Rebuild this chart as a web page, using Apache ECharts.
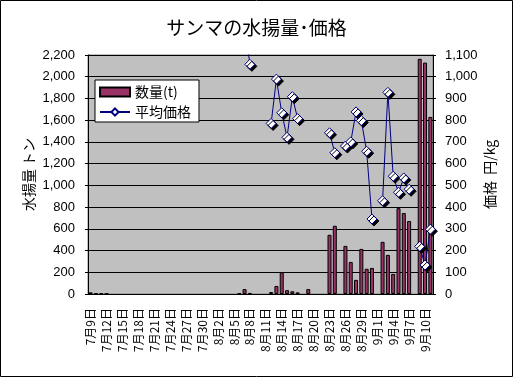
<!DOCTYPE html>
<html>
<head>
<meta charset="utf-8">
<script src="https://cdn.jsdelivr.net/npm/echarts@6/dist/echarts.min.js"></script>
<style>
  html, body { margin: 0; padding: 0; background: #fff; }
  #chart { width: 513px; height: 377px; }
</style>
</head>
<body>
<div id="chart"></div>
<script>
// 7/9 - 9/11, one category per day
const dates = [
  '7月9日','7月10日','7月11日','7月12日','7月13日','7月14日','7月15日','7月16日','7月17日','7月18日',
  '7月19日','7月20日','7月21日','7月22日','7月23日','7月24日','7月25日','7月26日','7月27日','7月28日',
  '7月29日','7月30日','7月31日','8月1日','8月2日','8月3日','8月4日','8月5日','8月6日','8月7日',
  '8月8日','8月9日','8月10日','8月11日','8月12日','8月13日','8月14日','8月15日','8月16日','8月17日',
  '8月18日','8月19日','8月20日','8月21日','8月22日','8月23日','8月24日','8月25日','8月26日','8月27日',
  '8月28日','8月29日','8月30日','8月31日','9月1日','9月2日','9月3日','9月4日','9月5日','9月6日',
  '9月7日','9月8日','9月9日','9月10日','9月11日'
];

// 数量 (t)
const catchTons = [
  15, 5, 8, 5, null, null, null, null, null, null,
  null, null, null, null, null, null, null, null, null, null,
  null, null, null, null, null, null, null, null, 8, 45,
  10, null, null, null, 18, 74, 200, 35, 25, 15,
  null, 45, null, null, null, 545, 628, null, 443, 295,
  130, 415, 232, 240, null, 480, 360, 185, 790, 745,
  672, null, 2165, 2130, 1630
];

// 平均価格 (円/kg)
const avgPrice = [
  null, null, null, null, null, null, null, null, null, null,
  null, null, null, null, null, null, null, null, null, null,
  null, null, null, null, null, null, null, null, null, 1250,
  1057, null, null, null, 785, 989, 834, 721, 908, 807,
  null, null, null, null, null, 742, 650, null, 681, 700,
  838, 798, 657, 345, null, 429, 928, 542, 468, 534,
  482, null, 219, 133, 298
];

const tonsMax = 2200, tonsStep = 200;
const priceMax = 1100, priceStep = 100;

const FONT = '"Liberation Sans", "Noto Sans CJK JP", sans-serif';
const JP = '"Noto Sans CJK JP", sans-serif';
const fmt = v => v.toLocaleString('en-US');

const chart = echarts.init(document.getElementById('chart'));

chart.setOption({
  animation: false,
  backgroundColor: '#fff',
  title: {
    text: 'サンマの水揚量･価格',
    left: 'center',
    top: 13,
    textStyle: { fontFamily: JP, fontSize: 19, fontWeight: 'normal', color: '#000' }
  },
  legend: {
    orient: 'vertical',
    left: 95,
    top: 80,
    backgroundColor: '#fff',
    borderColor: '#000',
    borderWidth: 1,
    borderRadius: 0,
    padding: [5, 8, 3, 4],
    itemGap: 6,
    itemWidth: 30,
    itemHeight: 9,
    textStyle: { fontFamily: JP, fontSize: 14, color: '#000', lineHeight: 14 },
    data: [
      { name: '数量(t)', icon: 'rect' },
      { name: '平均価格' }
    ]
  },
  grid: {
    left: 88, right: 80, top: 55, bottom: 83,
    show: true,
    backgroundColor: '#c0c0c0',
    borderColor: '#808080',
    borderWidth: 1
  },
  xAxis: {
    type: 'category',
    data: dates,
    boundaryGap: true,
    axisLine: { lineStyle: { color: '#000', width: 1 } },
    axisTick: { inside: true, length: 4, interval: 0, lineStyle: { color: '#000' } },
    axisLabel: {
      interval: 2, rotate: 90, margin: 14,
      fontFamily: JP, fontSize: 12, color: '#000'
    }
  },
  yAxis: [
    {
      type: 'value',
      min: 0, max: tonsMax, interval: tonsStep,
      name: '水揚量 トン',
      nameLocation: 'middle',
      nameRotate: 90,
      nameGap: 52,
      nameMoveOverlap: false,
      nameTextStyle: { fontFamily: JP, fontSize: 14, color: '#000' },
      axisLine: { show: true, lineStyle: { color: '#000' } },
      axisTick: { show: true, length: 3, lineStyle: { color: '#000' } },
      axisLabel: { formatter: fmt, fontFamily: FONT, fontSize: 13, color: '#000', margin: 13 },
      splitLine: { show: true, lineStyle: { color: '#000', width: 1 } }
    },
    {
      type: 'value',
      min: 0, max: priceMax, interval: priceStep,
      position: 'right',
      name: '価格  円/kg',
      nameLocation: 'middle',
      nameRotate: 90,
      nameGap: 50,
      nameMoveOverlap: false,
      nameTextStyle: { fontFamily: JP, fontSize: 14, color: '#000' },
      axisLine: { show: true, lineStyle: { color: '#000' } },
      axisTick: { show: true, length: 3, lineStyle: { color: '#000' } },
      axisLabel: { formatter: fmt, fontFamily: FONT, fontSize: 13, color: '#000', margin: 12 },
      splitLine: { show: false }
    }
  ],
  series: [
    {
      name: '数量(t)',
      type: 'bar',
      yAxisIndex: 0,
      data: catchTons,
      barWidth: 4,
      itemStyle: { color: '#993366', borderColor: '#000', borderWidth: 1 }
    },
    {
      name: '平均価格',
      type: 'line',
      yAxisIndex: 1,
      data: avgPrice,
      clip: true,
      symbol: 'diamond',
      symbolSize: 10,
      showAllSymbol: true,
      lineStyle: { color: '#000080', width: 1 },
      itemStyle: {
        color: '#fff', borderColor: '#000080', borderWidth: 1,
        shadowColor: '#000', shadowBlur: 0, shadowOffsetX: 2, shadowOffsetY: 2
      }
    }
  ],
  graphic: [
    {
      type: 'rect',
      shape: { x: 0.5, y: 0.5, width: 512, height: 376 },
      style: { fill: 'none', stroke: '#000', lineWidth: 1 },
      silent: true,
      z: 100
    }
  ]
});
</script>
</body>
</html>
